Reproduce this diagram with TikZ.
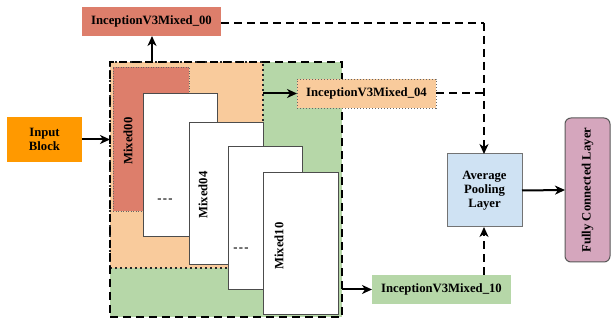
\documentclass[tikz,border=0pt]{standalone}
\usepackage{fontspec}
\setmainfont{Liberation Serif}
\usetikzlibrary{arrows.meta}
\definecolor{cred}{HTML}{DD7E6B}
\definecolor{cpeach}{HTML}{F9CB9C}
\definecolor{cgreen}{HTML}{B6D7A8}
\definecolor{cblue}{HTML}{CFE2F3}
\definecolor{cpink}{HTML}{D5A6BD}
\definecolor{corange}{HTML}{FF9900}
\tikzset{
  box/.style={rectangle, inner sep=0pt, outer sep=0pt},
  whitebox/.style={box, fill=white, draw=black!70, line width=0.9pt},
  arr/.style={-{Stealth[length=10pt,width=9pt,inset=3pt]}, line width=2pt},
  darr/.style={-{Stealth[length=10pt,width=9pt,inset=3pt]}, line width=2pt, dash pattern=on 8pt off 5pt},
  dline/.style={line width=2pt, dash pattern=on 8pt off 5pt},
}
\newcommand{\tdots}{\raisebox{0.2ex}{-\kern1.2pt-\kern1.2pt-}}
\begin{document}
\begin{tikzpicture}[x=1pt,y=-1pt, font=\bfseries\fontsize{12.7}{14}\selectfont]
\useasboundingbox (0,0) rectangle (611,320);
% regions
\node[box, fill=cgreen, minimum width=232pt, minimum height=255pt] (outerfill) at (226,189.5) {};
\node[box, fill=cpeach, draw=black!85, line width=2pt, dash pattern=on 2pt off 3pt, minimum width=153pt, minimum height=206pt] (peach) at (186.5,165) {};
\node[box, fill=cred, draw=black!60, line width=0.8pt, dash pattern=on 1pt off 1.5pt, minimum width=76pt, minimum height=144pt] (red) at (151,139) {};
\node[rotate=90] (m00) at (128,141) {Mixed00};
% white stacked boxes
\node[whitebox, minimum width=74pt, minimum height=143pt] (r1) at (180,164.5) {};
\node (d1) at (165,201) {\tdots};
\node[whitebox, minimum width=74pt, minimum height=142pt] (r2) at (226,193) {};
\node[rotate=90] (m04) at (203,195) {Mixed04};
\node[whitebox, minimum width=74pt, minimum height=143pt] (r3) at (265,217.5) {};
\node (d2) at (241,250) {\tdots};
\node[whitebox, minimum width=75pt, minimum height=142pt] (r4) at (300.5,243) {};
\node[rotate=90] (m10) at (279,246) {Mixed10};
% outer dashed border
\node[box, draw=black, line width=2.2pt, dash pattern=on 8pt off 5pt, minimum width=232pt, minimum height=255pt] (outer) at (226,189.5) {};
% other nodes
\node[box, fill=corange, minimum width=75pt, minimum height=45pt, align=center] (inp) at (44.5,139.5) {Input\\Block};
\node[box, fill=cred, minimum width=139pt, minimum height=29pt] (i00) at (151.5,21.5) {InceptionV3Mixed\_00};
\node[box, fill=cpeach, draw=black!60, line width=0.9pt, dash pattern=on 1.2pt off 1.8pt, minimum width=139pt, minimum height=29pt] (i04) at (366.5,93.5) {InceptionV3Mixed\_04};
\node[box, fill=cgreen, minimum width=139pt, minimum height=29pt] (i10) at (441.5,289.5) {InceptionV3Mixed\_10};
\node[box, fill=cblue, draw=black!55, line width=1pt, minimum width=75pt, minimum height=73pt, align=center] (avg) at (484.5,190.5) {Average\\Pooling\\Layer};
\node[box, fill=cpink, draw=black!65, line width=1pt, rounded corners=6pt, minimum width=45pt, minimum height=144pt] (fc) at (587.5,190) {};
\node[rotate=90] (fct) at (587.5,190) {Fully Connected Layer};
% connectors
\coordinate (c1) at (484,23);
\coordinate (c2) at (484,93.5);
\coordinate (up0) at (152,62);
\draw[arr] (inp.east) -- (outer.west |- inp.east);
\draw[arr] (up0) -- (up0 |- i00.south);
\draw[arr] (peach.east |- i04.west) -- (i04.west);
\draw[arr] (outer.east |- i10.west) -- (i10.west);
\draw[dline] (i00.east |- c1) -- (c1);
\draw[darr] (c1) -- (avg.north -| c1);
\draw[dline] (i04.east) -- (c2);
\draw[darr] (i10.north -| c1) -- (avg.south -| c1);
\draw[arr] (avg.east) -- (fc.west);
\end{tikzpicture}
\end{document}
